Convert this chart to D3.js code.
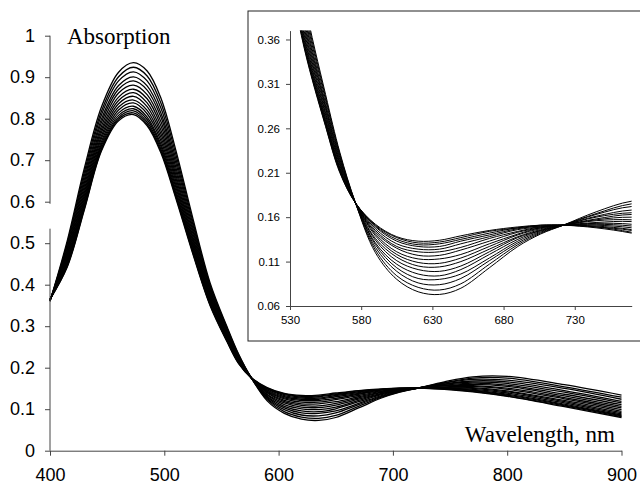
<!DOCTYPE html>
<html>
<head>
<meta charset="utf-8">
<script src="https://cdn.jsdelivr.net/npm/d3@7"></script>
<style>
  body { margin: 0; background: #fff; }
  svg { display: block; }
</style>
</head>
<body>
<svg id="chart" width="640" height="485"></svg>
<script>
// wavelength grid (nm)
const wavelengths = [400, 415, 430, 445, 460, 473, 485, 497, 510, 525, 540, 555, 565, 576,
  590, 605, 620, 635, 650, 670, 690, 706, 722, 745, 770, 800, 850, 900];

// absorbance spectra, one row per recorded curve (highest peak first)
const spectra = [
  [0.360,0.505,0.680,0.828,0.912,0.935,0.915,0.850,0.725,0.560,0.405,0.298,0.233,0.176,0.120,0.090,0.076,0.073,0.080,0.103,0.127,0.141,0.151,0.166,0.178,0.179,0.159,0.134],
  [0.360,0.499,0.671,0.818,0.901,0.924,0.903,0.838,0.715,0.552,0.400,0.295,0.231,0.176,0.123,0.094,0.081,0.078,0.085,0.107,0.129,0.142,0.151,0.164,0.175,0.175,0.154,0.129],
  [0.361,0.494,0.662,0.809,0.891,0.913,0.891,0.826,0.704,0.545,0.395,0.292,0.229,0.176,0.126,0.099,0.086,0.084,0.091,0.111,0.131,0.143,0.151,0.163,0.172,0.170,0.150,0.124],
  [0.361,0.488,0.653,0.799,0.880,0.901,0.879,0.814,0.694,0.537,0.390,0.288,0.227,0.176,0.129,0.103,0.091,0.090,0.096,0.114,0.133,0.144,0.151,0.161,0.168,0.166,0.145,0.119],
  [0.362,0.483,0.645,0.791,0.871,0.891,0.869,0.804,0.684,0.530,0.386,0.285,0.225,0.176,0.131,0.107,0.096,0.094,0.101,0.118,0.135,0.145,0.151,0.160,0.165,0.162,0.141,0.115],
  [0.362,0.478,0.637,0.782,0.862,0.881,0.858,0.793,0.675,0.523,0.381,0.283,0.223,0.176,0.134,0.111,0.101,0.099,0.105,0.121,0.137,0.145,0.151,0.158,0.163,0.158,0.136,0.111],
  [0.363,0.473,0.629,0.774,0.852,0.871,0.848,0.783,0.666,0.516,0.377,0.280,0.221,0.176,0.136,0.115,0.105,0.104,0.110,0.124,0.138,0.146,0.151,0.157,0.160,0.155,0.132,0.107],
  [0.363,0.469,0.622,0.767,0.844,0.863,0.838,0.773,0.658,0.510,0.373,0.277,0.220,0.176,0.139,0.118,0.109,0.108,0.114,0.127,0.140,0.147,0.151,0.156,0.157,0.151,0.128,0.103],
  [0.363,0.464,0.615,0.759,0.836,0.854,0.829,0.764,0.650,0.504,0.369,0.275,0.218,0.176,0.141,0.121,0.113,0.113,0.118,0.130,0.141,0.148,0.151,0.154,0.155,0.148,0.125,0.099],
  [0.364,0.460,0.608,0.752,0.828,0.845,0.820,0.755,0.642,0.498,0.365,0.272,0.216,0.176,0.143,0.125,0.117,0.117,0.123,0.133,0.143,0.148,0.151,0.153,0.152,0.144,0.121,0.095],
  [0.364,0.456,0.602,0.745,0.821,0.838,0.812,0.747,0.635,0.493,0.362,0.270,0.215,0.176,0.145,0.127,0.121,0.121,0.126,0.136,0.144,0.149,0.151,0.152,0.150,0.142,0.118,0.092],
  [0.364,0.452,0.596,0.739,0.814,0.830,0.804,0.739,0.628,0.488,0.359,0.268,0.214,0.176,0.147,0.130,0.124,0.124,0.130,0.138,0.146,0.149,0.151,0.151,0.148,0.139,0.115,0.089],
  [0.364,0.449,0.591,0.734,0.808,0.824,0.798,0.733,0.622,0.484,0.356,0.266,0.213,0.176,0.149,0.133,0.127,0.127,0.133,0.140,0.147,0.150,0.151,0.150,0.146,0.136,0.112,0.086],
  [0.365,0.446,0.587,0.729,0.803,0.819,0.792,0.727,0.617,0.480,0.354,0.265,0.212,0.176,0.150,0.135,0.129,0.130,0.135,0.142,0.148,0.150,0.151,0.149,0.145,0.134,0.110,0.084],
  [0.365,0.444,0.583,0.725,0.799,0.814,0.787,0.722,0.613,0.477,0.352,0.263,0.211,0.176,0.151,0.137,0.131,0.132,0.137,0.144,0.148,0.151,0.151,0.149,0.143,0.132,0.108,0.082],
  [0.365,0.442,0.580,0.722,0.795,0.810,0.783,0.718,0.609,0.474,0.350,0.262,0.210,0.176,0.152,0.138,0.133,0.134,0.139,0.145,0.149,0.151,0.151,0.148,0.142,0.131,0.106,0.080]
];

// ticks
const mainXTicks = [400, 500, 600, 700, 800, 900];
const mainYTicks = [0, 0.1, 0.2, 0.3, 0.4, 0.5, 0.6, 0.7, 0.8, 0.9, 1];
const insetXTicks = [530, 580, 630, 680, 730];
const insetYTicks = [0.06, 0.11, 0.16, 0.21, 0.26, 0.31, 0.36];

const sans = '"Liberation Sans", Arial, sans-serif';
const serif = '"Liberation Serif", "Times New Roman", serif';

const svg = d3.select("#chart");

// --- main plot ---
const x = d3.scaleLinear().domain([400, 900]).range([50, 621.5]);
const y = d3.scaleLinear().domain([0, 1]).range([450.7, 35.7]);

const line = d3.line()
  .x((d, i) => x(wavelengths[i]))
  .y(d => y(d))
  .curve(d3.curveCatmullRom.alpha(0.5));

svg.append("g")
  .selectAll("path")
  .data(spectra)
  .join("path")
  .attr("d", line)
  .attr("fill", "none")
  .attr("stroke", "#000")
  .attr("stroke-width", 1.3);

const xAxis = svg.append("g")
  .attr("transform", `translate(0,${y(0)})`)
  .call(d3.axisBottom(x).tickValues(mainXTicks).tickSize(5).tickSizeOuter(0).tickPadding(12.5));

const yAxis = svg.append("g")
  .attr("transform", `translate(${x(400)},0)`)
  .call(d3.axisLeft(y).tickValues(mainYTicks).tickSize(5).tickPadding(10).tickFormat(d => String(d)));
yAxis.select(".domain").remove();
// axis line is broken between 0.6 and 0.53 in the original
[[1, 0.595], [0.535, 0]].forEach(([a, b]) => {
  yAxis.append("line")
    .attr("x1", 0).attr("x2", 0)
    .attr("y1", y(a)).attr("y2", y(b))
    .attr("stroke", "#444");
});

[xAxis, yAxis].forEach(g => {
  g.selectAll(".domain, .tick line").attr("stroke", "#444");
  g.selectAll("text")
    .attr("font-family", sans)
    .attr("font-size", 18)
    .attr("fill", "#000");
});

svg.append("text")
  .attr("x", 67)
  .attr("y", 44)
  .attr("font-family", serif)
  .attr("font-size", 23)
  .text("Absorption");

svg.append("text")
  .attr("x", 615)
  .attr("y", 441.5)
  .attr("text-anchor", "end")
  .attr("font-family", serif)
  .attr("font-size", 23)
  .text("Wavelength, nm");

// --- inset ---
const inset = svg.append("g");
inset.append("rect")
  .attr("x", 248).attr("y", 11)
  .attr("width", 420).attr("height", 330)
  .attr("fill", "#fff")
  .attr("stroke", "#222")
  .attr("stroke-width", 1);

const ix = d3.scaleLinear().domain([530, 770]).range([290, 631.7]);
const iy = d3.scaleLinear().domain([0.06, 0.37]).range([306, 30.6]);

inset.append("clipPath")
  .attr("id", "inset-clip")
  .append("rect")
  .attr("x", ix(530)).attr("y", iy(0.37))
  .attr("width", ix(770) - ix(530))
  .attr("height", iy(0.06) - iy(0.37));

const insetLine = d3.line()
  .x((d, i) => ix(wavelengths[i]))
  .y(d => iy(d))
  .curve(d3.curveCatmullRom.alpha(0.5));

inset.append("g")
  .attr("clip-path", "url(#inset-clip)")
  .selectAll("path")
  .data(spectra)
  .join("path")
  .attr("d", insetLine)
  .attr("fill", "none")
  .attr("stroke", "#000")
  .attr("stroke-width", 1);

const ixAxis = inset.append("g")
  .attr("transform", `translate(0,${iy(0.06)})`)
  .call(d3.axisBottom(ix).tickValues(insetXTicks).tickSize(4).tickSizeOuter(0).tickPadding(6));
const iyAxis = inset.append("g")
  .attr("transform", `translate(${ix(530)},0)`)
  .call(d3.axisLeft(iy).tickValues(insetYTicks).tickSize(4).tickSizeOuter(0).tickPadding(6)
    .tickFormat(d3.format(".2f")));

[ixAxis, iyAxis].forEach(g => {
  g.selectAll(".domain, .tick line").attr("stroke", "#444");
  g.selectAll("text")
    .attr("font-family", sans)
    .attr("font-size", 11.5)
    .attr("fill", "#000");
});
</script>
</body>
</html>
